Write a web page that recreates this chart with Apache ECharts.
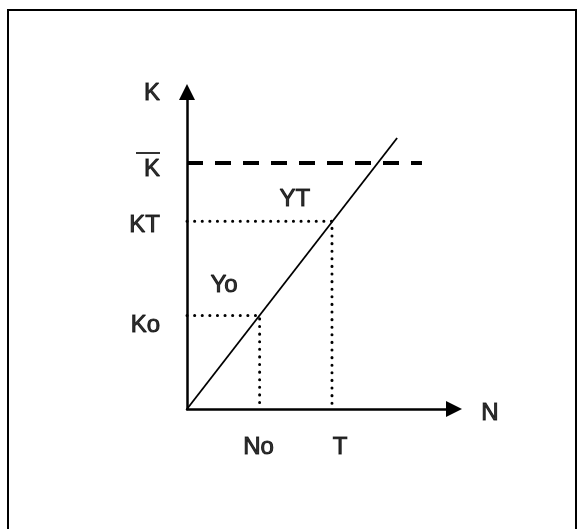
<!DOCTYPE html>
<html>
<head>
<meta charset="utf-8">
<script src="https://cdn.jsdelivr.net/npm/echarts@6/dist/echarts.min.js"></script>
<style>
    html, body { margin: 0; padding: 0; background: #fff; }
    #main { width: 586px; height: 529px; }
</style>
</head>
<body>
<div id="main"></div>
<script>
// values (axis units 0..10)
var nNames = ['No', 'T'];
var nValues = [2.72, 5.43];
var kNames = ['Ko', 'KT', 'Kbar'];
var kValues = [2.95, 5.92, 7.76];
var growthLine = [[0, 0], [7.87, 8.55]];
var kBarEnd = 8.80;
var areaNames = ['Yo', 'YT'];
var areaPos = [[1.39, 3.91], [4.04, 6.62]];

var font = 'Liberation Sans, Arial, sans-serif';
var kOffsets = [10, 4, 2];
var nOffsets = [-1, 8];

var chart = echarts.init(document.getElementById('main'));

// labels on the K axis
var kLabelData = kNames.map(function (name, i) {
    return {
        name: name,
        value: [0, kValues[i]],
        label: { offset: [0, kOffsets[i]] }
    };
});
kLabelData.push({ name: 'K', value: [0, 10], label: { offset: [0, 1] } });

// labels under the N axis
var nLabelData = nNames.map(function (name, i) {
    return { name: name, value: [nValues[i], 0], label: { offset: [nOffsets[i], 38] } };
});
nLabelData.push({ name: 'N', value: [10, 0], label: { offset: [36, 4] } });
areaNames.forEach(function (name, i) {
    nLabelData.push({ name: name, value: areaPos[i], label: { offset: [0, 0] } });
});

var txt = {
    color: '#000', fontFamily: font, fontSize: 24,
    textBorderColor: '#000', textBorderWidth: 1
};
var dotStyle = { color: '#000', width: 3, type: [0.1, 7.5], cap: 'round' };

option = {
    animation: false,
    backgroundColor: '#fff',
    grid: { left: 187, right: 132, top: 92, bottom: 120 },
    xAxis: {
        type: 'value', min: 0, max: 10,
        splitLine: { show: false }, axisTick: { show: false }, axisLabel: { show: false },
        axisLine: {
            show: true, onZero: false,
            symbol: ['none', 'triangle'], symbolSize: [16, 16],
            lineStyle: { color: '#000', width: 2.5 }
        }
    },
    yAxis: {
        type: 'value', min: 0, max: 10,
        splitLine: { show: false }, axisTick: { show: false }, axisLabel: { show: false },
        axisLine: {
            show: true, onZero: false,
            symbol: ['none', 'triangle'], symbolSize: [16, 16],
            lineStyle: { color: '#000', width: 2.5 }
        }
    },
    graphic: [{
        type: 'rect',
        shape: { x: 8, y: 10, width: 568, height: 540 },
        style: { fill: null, stroke: '#000', lineWidth: 2 },
        silent: true
    }],
    series: [
        {
            type: 'line', data: growthLine, symbol: 'none',
            lineStyle: { color: '#000', width: 1.8 }
        },
        {
            type: 'line', data: [[0, kValues[2]], [kBarEnd, kValues[2]]], symbol: 'none',
            lineStyle: { color: '#000', width: 4, type: [16, 12] }
        },
        {
            type: 'line', data: [[0, kValues[0]], [nValues[0], kValues[0]], [nValues[0], 0]],
            symbol: 'none', lineStyle: dotStyle
        },
        {
            type: 'line', data: [[0, kValues[1]], [nValues[1], kValues[1]], [nValues[1], 0]],
            symbol: 'none', lineStyle: dotStyle
        },
        {
            type: 'scatter', symbolSize: 0, data: kLabelData,
            label: Object.assign({
                show: true, position: 'left', distance: 27,
                formatter: function (p) {
                    return p.name === 'Kbar' ? '{bar|}\n{k|K}' : p.name;
                },
                rich: {
                    bar: { width: 24, height: 2, backgroundColor: '#000', lineHeight: 8 },
                    k: Object.assign({ lineHeight: 24 }, txt)
                }
            }, txt)
        },
        {
            type: 'scatter', symbolSize: 0, data: nLabelData,
            label: Object.assign({
                show: true, position: 'inside',
                formatter: '{b}'
            }, txt)
        }
    ]
};
chart.setOption(option);
</script>
</body>
</html>
